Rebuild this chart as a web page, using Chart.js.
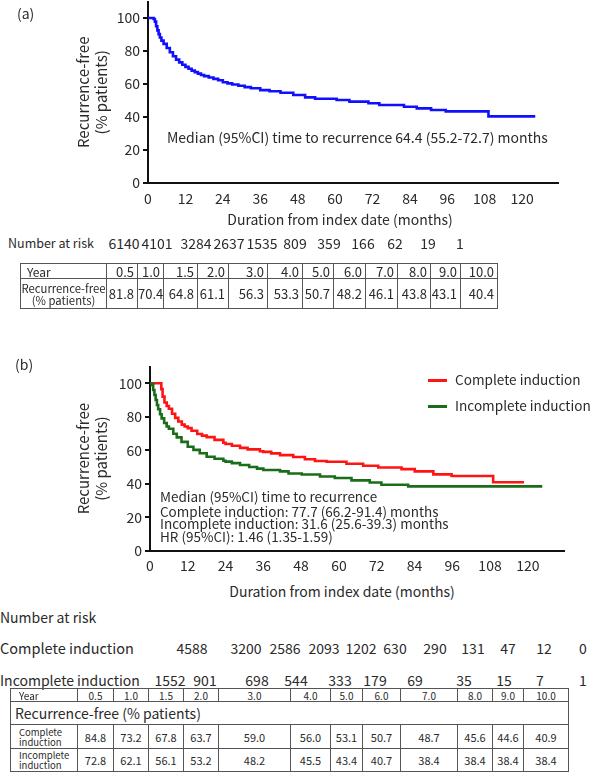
<!DOCTYPE html>
<html><head><meta charset="utf-8">
<script src="https://cdn.jsdelivr.net/npm/chart.js@4.4.1/dist/chart.umd.min.js"></script>
<style>
html,body{margin:0;padding:0;background:#fff;}
body{width:593px;height:774px;position:relative;overflow:hidden;font-family:"Noto Sans CJK KR","Noto Sans",sans-serif;color:#2a2a2a;}
.t{position:absolute;white-space:nowrap;line-height:1;}
canvas{position:absolute;}
table{position:absolute;border-collapse:collapse;table-layout:fixed;color:#2a2a2a;}
td{border:1px solid #555;padding:0;overflow:hidden;white-space:nowrap;}
.sw{position:absolute;height:3px;}
</style></head>
<body>
<canvas id="ca" width="593" height="232" style="left:0;top:-20px"></canvas>
<canvas id="cb" width="593" height="240" style="left:0;top:340px"></canvas>
<script>
// ---------- data ----------
const xTicks = [0,12,24,36,48,60,72,84,96,108,120];
const yTicks = [0,20,40,60,80,100];

// (a) overall Kaplan-Meier (months, % recurrence-free)
const aMonths = [0,1.8,2.2,2.6,3.0,3.4,3.8,4.3,5.0,6.0,7.0,8.0,9.0,10.0,11.0,12.0,13.0,14.0,15.0,16.0,17.0,18.0,19.5,21.0,22.5,24.0,25.5,27.0,29.0,31.0,33.0,36.0,39.0,42.5,46.6,50.4,53.6,60.5,64.6,70.7,74.2,82.1,86.2,90.8,95.5,109.2,124.2];
const aSurv   = [100,99.4,97.8,95.0,92.5,90.2,88.2,86.3,84.3,81.8,79.2,76.8,74.8,73.1,71.7,70.4,69.2,68.1,67.2,66.3,65.5,64.8,63.9,63.1,62.3,61.1,60.4,59.7,58.9,58.1,57.4,56.3,55.6,54.7,53.3,51.9,51.1,50.3,49.3,48.3,47.3,46.2,45.2,44.2,43.4,40.4,40.4];

// (b) complete induction
const cMonths = [0,3.2,3.6,4.0,4.6,5.3,6.0,7.0,8.0,9.0,10.1,11.0,12.0,13.2,15.0,16.5,18.0,20.5,23.3,24.0,26.0,28.6,31.0,34.9,36.0,38.5,41.3,45.5,49.2,52.4,56.1,62.4,67.7,72.5,79.9,84.1,90.0,95.8,109.0,118.8];
const cSurv   = [100,100,96.5,92.0,88.5,86.4,84.8,81.8,79.3,77.2,75.3,74.2,73.2,71.6,69.7,68.7,67.8,66.2,64.5,63.7,62.7,61.4,60.5,59.4,59.0,58.1,57.1,56.0,54.6,53.6,53.1,51.9,50.7,49.7,48.7,47.4,45.6,44.6,40.9,40.9];

// (b) incomplete induction
const iMonths = [0,0.6,1.0,1.4,1.8,2.2,2.6,3.2,3.7,4.5,5.3,6.0,7.4,8.5,10.0,12.0,13.8,15.8,18.0,20.5,23.3,24.0,26.0,28.6,31.5,34.0,36.0,41.3,44.0,48.2,54.0,58.7,64.0,69.8,73.5,82.0,124.6];
const iSurv   = [100,99,96,93,90,87,84.5,81.5,79.0,76.3,74.2,72.8,69.8,67.7,65.0,62.1,60.2,58.2,56.1,54.9,53.7,53.2,52.3,51.2,50.0,49.0,48.2,47.4,46.1,45.5,44.3,43.4,42.0,40.7,39.4,38.4,38.4];

// number at risk
const riskA = [6140,4101,3284,2637,1535,809,359,166,62,19,1];
const riskComplete = [4588,3200,2586,2093,1202,630,290,131,47,12,0];
const riskIncomplete = [1552,901,698,544,333,179,69,35,15,7,1];

// tables
const tableYears = ['0.5','1.0','1.5','2.0','3.0','4.0','5.0','6.0','7.0','8.0','9.0','10.0'];
const tableA = [81.8,70.4,64.8,61.1,56.3,53.3,50.7,48.2,46.1,43.8,43.1,40.4];
const tableComplete = [84.8,73.2,67.8,63.7,59.0,56.0,53.1,50.7,48.7,45.6,44.6,40.9];
const tableIncomplete = [72.8,62.1,56.1,53.2,48.2,45.5,43.4,40.7,38.4,38.4,38.4,38.4];

// ---------- layout (positions only) ----------
const FONT = '"Noto Sans CJK KR","Noto Sans",sans-serif';
const TXT = '#2a2a2a';
const riskAX = [124,157,196,229,262,295,329,363,395,428,460];
const riskCX = [192,246,285,324,361,395,435,473,508,544,583];
const riskIX = [170,205,257,296,340,375,415,464,504,540,583];
const colsA = [86,31,26,34,31,39,35,31,32,32,33,30,37];
const colsB = [67,36,35,35,35,72,40,32,38,57,35,31,45];

function pts(t, s){ return t.map((m,i)=>({x:m, y:s[i]})); }

function makeChart(id, datasets, g){
  return new Chart(document.getElementById(id), {
    type:'line',
    data:{datasets},
    options:{
      responsive:false, animation:false, devicePixelRatio:1,
      layout:{padding:{left:0,right:g.padRight,top:g.padTop,bottom:0}},
      plugins:{legend:{display:false},tooltip:{enabled:false}},
      elements:{point:{radius:0},line:{tension:0}},
      scales:{
        x:{type:'linear',min:0,max:131.5,
          afterBuildTicks:s=>{s.ticks=xTicks.map(v=>({value:v}));},
          ticks:{font:{family:FONT,size:14},color:TXT,padding:g.xPad,maxRotation:0,autoSkip:false},
          grid:{display:false,drawTicks:false,tickLength:0},
          border:{display:true,color:'#111',width:2},
          afterFit:s=>{s.height=g.xH;}
        },
        y:{type:'linear',min:0,max:110,
          afterBuildTicks:s=>{s.ticks=yTicks.map(v=>({value:v}));},
          ticks:{font:{family:FONT,size:14},color:TXT,padding:3},
          grid:{display:true,drawOnChartArea:false,drawTicks:true,tickLength:5,color:'#111',lineWidth:2},
          border:{display:true,color:'#111',width:2},
          title:{display:true,text:['Recurrence-free','(% patients)'],font:{family:FONT,size:15},color:TXT,padding:{top:74,bottom:0}},
          afterFit:s=>{s.width=g.yW;}
        }
      }
    }
  });
}

makeChart('ca', [
  {data:pts(aMonths,aSurv), borderColor:'#1010ff', borderWidth:2.6, stepped:'before', fill:false}
], {padRight:35, padTop:21.5, xH:29, xPad:7, yW:148});

makeChart('cb', [
  {data:pts(iMonths,iSurv), borderColor:'#1a6e1a', borderWidth:2.6, stepped:'before', fill:false},
  {data:pts(cMonths,cSurv), borderColor:'#ff1414', borderWidth:2.6, stepped:'before', fill:false}
], {padRight:29, padTop:26.5, xH:29.3, xPad:7, yW:150});

// ---------- text ----------
function addText(txt, x, y, size, center){
  const d = document.createElement('div');
  d.className = 't';
  d.textContent = txt;
  d.style.left = x+'px'; d.style.top = y+'px'; d.style.fontSize = size+'px';
  d.style.transform = center ? 'translate(-50%,-50%)' : 'translateY(-50%)';
  document.body.appendChild(d);
  return d;
}
addText('(a)', 17, 13, 14);
addText('Median (95%CI) time to recurrence 64.4 (55.2-72.7) months', 167, 137, 14);
addText('Duration from index date (months)', 340, 219, 14, true);
addText('Number at risk', 8, 243, 12.5);
riskA.forEach((v,i)=>addText(String(v), riskAX[i], 243, 14, true));

addText('(b)', 15, 364, 14);
addText('Complete induction', 455, 380, 13.6);
addText('Incomplete induction', 455, 406, 13.6);
[['#ff1414',380],['#1a6e1a',406]].forEach(([c,y])=>{
  const s=document.createElement('div'); s.className='sw';
  s.style.cssText+='left:428px;width:19px;top:'+(y-1.5)+'px;background:'+c;
  document.body.appendChild(s);
});
addText('Median (95%CI) time to recurrence', 160, 497, 13.5);
addText('Complete induction: 77.7 (66.2-91.4) months', 160, 512, 13.5);
addText('Incomplete induction: 31.6 (25.6-39.3) months', 160, 524, 13.5);
addText('HR (95%CI): 1.46 (1.35-1.59)', 160, 537, 13.5);
addText('Duration from index date (months)', 342, 591, 14, true);
addText('Number at risk', 0, 617, 14);
addText('Complete induction', 0, 648, 14.5);
addText('Incomplete induction', 0, 679.5, 14);
riskComplete.forEach((v,i)=>addText(String(v), riskCX[i], 648, 14, true));
riskIncomplete.forEach((v,i)=>addText(String(v), riskIX[i], 679.5, 14, true));

// ---------- tables ----------
function colgroup(widths){ return '<colgroup>'+widths.map(w=>'<col style="width:'+w+'px">').join('')+'</colgroup>'; }
const f1 = v => v.toFixed(1);
const tA = document.createElement('table');
tA.style.cssText = 'left:20px;top:263px;width:477px;font-size:13px;';
tA.innerHTML = colgroup(colsA) +
  '<tr style="height:15px;line-height:13px">'+'<td style="padding-left:6px;font-size:12px">Year</td>'+tableYears.map(y=>'<td style="text-align:right;padding-right:3px">'+y+'</td>').join('')+'</tr>'+
  '<tr style="height:30px;line-height:12px">'+'<td style="text-align:center;font-size:11.3px;overflow:visible">Recurrence-free<br>(% patients)</td>'+tableA.map(v=>'<td style="text-align:right;padding-right:3px">'+f1(v)+'</td>').join('')+'</tr>';
document.body.appendChild(tA);

const tB = document.createElement('table');
tB.style.cssText = 'left:10px;top:688px;width:558px;font-size:11px;';
tB.innerHTML = colgroup(colsB) +
  '<tr style="height:13px;line-height:11px">'+'<td style="padding-left:8px;font-size:10px">Year</td>'+tableYears.map(y=>'<td style="text-align:center;font-size:10px">'+y+'</td>').join('')+'</tr>'+
  '<tr style="height:23px"><td colspan="13" style="padding-left:4px;font-size:14px">Recurrence-free (% patients)</td></tr>'+
  '<tr style="height:24px;line-height:10px">'+'<td style="padding-left:8px;font-size:9.5px">Complete<br>induction</td>'+tableComplete.map(v=>'<td style="text-align:center">'+f1(v)+'</td>').join('')+'</tr>'+
  '<tr style="height:23px;line-height:10px">'+'<td style="padding-left:8px;font-size:9.5px">Incomplete<br>induction</td>'+tableIncomplete.map(v=>'<td style="text-align:center">'+f1(v)+'</td>').join('')+'</tr>';
document.body.appendChild(tB);
</script>
</body></html>
